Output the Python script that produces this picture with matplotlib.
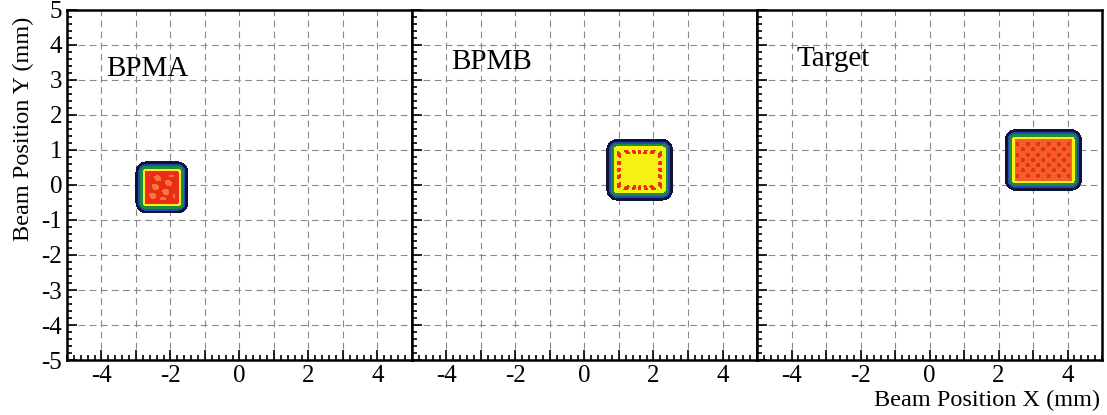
import numpy as np
import matplotlib.pyplot as plt
from matplotlib.ticker import MultipleLocator, FixedLocator

# beam spot extents (mm)
PANEL_NAMES = ["BPMA", "BPMB", "Target"]
SPOT_X0 = [-3.0, 0.65, 2.2]
SPOT_X1 = [-1.5, 2.55, 4.4]
SPOT_Y0 = [-0.8, -0.43, -0.15]
SPOT_Y1 = [0.66, 1.30, 1.58]

X_TICKS = [-4, -3, -2, -1, 0, 1, 2, 3, 4]
X_TICK_LABELS = ["-4", "", "-2", "", "0", "", "2", "", "4"]
Y_TICKS = [-5, -4, -3, -2, -1, 0, 1, 2, 3, 4, 5]

plt.rcParams['font.family'] = ['Liberation Serif', 'DejaVu Serif']
plt.rcParams['axes.unicode_minus'] = False

NAVY = "#0c1438"
BLUE = "#2348b0"
GREEN = "#1e8a3c"
YELLOW = "#f6f014"
RED = "#ec2c18"
ORANGE = "#f2602a"
LIGHT_ORANGE = "#f27a38"

# colours from the outer edge inwards, per panel
CORE = [RED, YELLOW, ORANGE]
SPECKLE = [LIGHT_ORANGE, RED, RED]
EDGES = [0.0, 0.08, 0.13, 0.21, 0.28, 99]


def inside_distance(xx, yy, x0, x1, y0, y1, r=0.3):
    # distance into a rounded rectangle (positive inside)
    cx, cy = (x0 + x1) / 2, (y0 + y1) / 2
    hx, hy = (x1 - x0) / 2, (y1 - y0) / 2
    qx = np.abs(xx - cx) - (hx - r)
    qy = np.abs(yy - cy) - (hy - r)
    out = np.hypot(np.maximum(qx, 0), np.maximum(qy, 0)) + np.minimum(np.maximum(qx, qy), 0) - r
    return -out


fig, axes = plt.subplots(1, 3, figsize=(11.07, 4.15), dpi=100, sharey=True)
fig.subplots_adjust(left=0.0605, right=0.9955, top=0.976, bottom=0.1325, wspace=0)

gx = np.linspace(-5, 5, 800)
XX, YY = np.meshgrid(gx, gx)

label_y = [3.3, 3.5, 3.6]

for i, ax in enumerate(axes):
    ax.set_xlim(-5, 5)
    ax.set_ylim(-5, 5)

    for v in range(-4, 5):
        ax.axvline(v, color="#8a8a8a", lw=0.8, ls=(0, (6, 4)), zorder=0)
        ax.axhline(v, color="#8a8a8a", lw=0.8, ls=(0, (6, 4)), zorder=0)

    d = inside_distance(XX, YY, SPOT_X0[i], SPOT_X1[i], SPOT_Y0[i], SPOT_Y1[i])
    ax.contourf(XX, YY, d, levels=EDGES, colors=[NAVY, BLUE, GREEN, YELLOW, CORE[i]], zorder=2)

    # binning speckle inside the spot
    cx = (SPOT_X0[i] + SPOT_X1[i]) / 2
    cy = (SPOT_Y0[i] + SPOT_Y1[i]) / 2
    if i == 0:
        p = 0.45
        tex = np.cos(2 * np.pi * (XX + YY * 0.6) / p) * np.cos(2 * np.pi * (YY - XX * 0.3) / p)
        tex = np.where(d > 0.38, tex, -1)
        ax.contourf(XX, YY, tex, levels=[0.4, 2], colors=[SPECKLE[i]], zorder=3)
    elif i == 1:
        theta = np.arctan2(YY - cy, XX - cx)
        tex = np.cos(20 * theta)
        tex = np.where((d > 0.31) & (d < 0.40), tex, -1)
        ax.contourf(XX, YY, tex, levels=[0.3, 2], colors=[SPECKLE[i]], zorder=3)
    else:
        p = 0.3
        tex = np.cos(2 * np.pi * (XX - cx) / p) * np.cos(2 * np.pi * (YY - cy) / p)
        tex = np.where(d > 0.33, tex, -1)
        ax.contourf(XX, YY, tex, levels=[0.6, 2], colors=[SPECKLE[i]], zorder=3)

    ax.text(-3.85, label_y[i], PANEL_NAMES[i], fontsize=21, va="center", ha="left")

    ax.xaxis.set_major_locator(FixedLocator(X_TICKS))
    ax.set_xticklabels(X_TICK_LABELS)
    ax.xaxis.set_minor_locator(MultipleLocator(0.2))
    ax.yaxis.set_major_locator(FixedLocator(Y_TICKS))
    ax.yaxis.set_minor_locator(MultipleLocator(0.2))
    ax.tick_params(which="both", direction="in", top=False, right=False, labelsize=18, width=1.2)
    ax.tick_params(which="major", length=7)
    ax.tick_params(which="minor", length=3.5)
    for s in ax.spines.values():
        s.set_linewidth(1.8)
    if i > 0:
        ax.tick_params(labelleft=False)

axes[0].set_ylabel("Beam Position Y (mm)", fontsize=17.5)
axes[0].yaxis.set_label_coords(-0.095, 0.66)
fig.text(0.994, 0.035, "Beam Position X (mm)", fontsize=17.5, ha="right", va="center")

plt.savefig("out.png", dpi=100)
